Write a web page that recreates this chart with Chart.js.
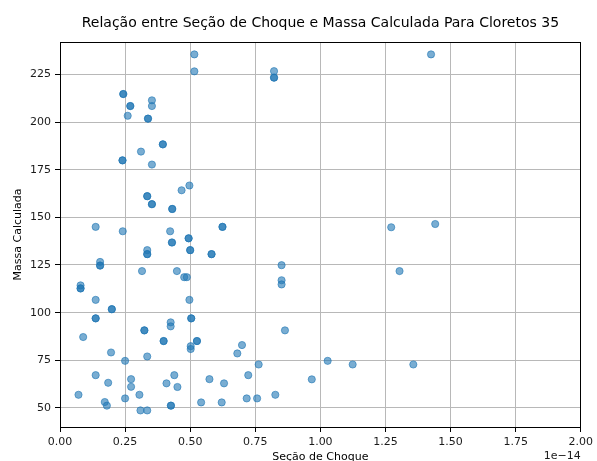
<!DOCTYPE html>
<html>
<head>
<meta charset="utf-8">
<script src="https://cdn.jsdelivr.net/npm/chart.js@4.4.0/dist/chart.umd.min.js"></script>
<style>
  html, body { margin: 0; padding: 0; background: #fff; }
  #wrap { width: 597px; height: 461px; }
</style>
</head>
<body>
<div id="wrap"><canvas id="scatter" width="597" height="461"></canvas></div>
<script>
// Seção de choque (em unidades de 1e-14) e massa calculada
var secaoChoque = [
  0.516, 0.516, 0.243, 0.243, 0.270, 0.270, 0.353, 0.353, 0.260, 0.338,
  0.338, 0.395, 0.395, 0.311, 0.240, 0.240, 0.353, 0.497, 0.467, 0.335,
  0.335, 0.353, 0.353, 0.431, 0.431, 0.137, 0.241, 0.423, 0.624, 0.624,
  0.494, 0.494, 0.430, 0.430, 0.500, 0.500, 0.335, 0.335, 0.335, 0.582,
  0.582, 0.154, 0.154, 0.154, 0.315, 0.449, 0.477, 0.487, 0.079, 0.079,
  0.079, 0.137, 0.497, 0.199, 0.199, 0.137, 0.137, 0.504, 0.504, 0.425,
  0.425, 0.324, 0.324, 0.089, 0.398, 0.398, 0.526, 0.526, 0.502, 0.502,
  0.196, 0.335, 0.250, 0.137, 0.439, 0.273, 0.185, 0.409, 0.273, 0.451,
  0.574, 0.630, 0.071, 0.305, 0.250, 0.172, 0.180, 0.542, 0.621, 0.426,
  0.426, 0.309, 0.335, 0.822, 0.822, 0.822, 1.272, 0.851, 0.851, 0.851,
  1.304, 0.864, 0.699, 0.681, 0.763, 1.028, 1.124, 0.723, 0.967, 0.717,
  0.757, 0.827, 1.425, 1.441, 1.357
];
var massaCalculada = [
  235.5, 226.6, 214.7, 214.7, 208.4, 208.4, 211.4, 208.4, 203.3, 201.8,
  201.8, 188.3, 188.3, 184.5, 179.9, 179.9, 177.7, 166.7, 164.2, 161.1,
  161.1, 156.9, 156.9, 154.4, 154.4, 145.0, 142.7, 142.7, 145.0, 145.0,
  139.0, 139.0, 136.8, 136.8, 132.8, 132.8, 132.8, 130.7, 130.7, 130.7,
  130.7, 126.6, 124.7, 124.7, 121.8, 121.8, 118.6, 118.6, 114.3, 112.7,
  112.7, 106.7, 106.7, 101.8, 101.8, 97.0, 97.0, 97.0, 97.0, 94.9,
  92.8, 90.7, 90.7, 87.2, 85.1, 85.1, 85.1, 85.1, 82.4, 80.9,
  79.1, 77.0, 74.7, 67.2, 67.2, 65.1, 63.2, 62.9, 61.1, 61.0,
  65.1, 62.9, 56.9, 56.9, 55.0, 53.1, 51.2, 52.9, 52.9, 51.2,
  51.2, 48.7, 48.7, 226.7, 223.3, 223.3, 144.8, 124.9, 117.0, 114.8,
  121.8, 90.7, 83.0, 78.6, 72.8, 74.7, 72.8, 67.2, 65.0, 55.0,
  55.0, 56.9, 235.5, 146.5, 72.8
];
var xTicks = [0, 0.25, 0.5, 0.75, 1.0, 1.25, 1.5, 1.75, 2.0];
var yTicks = [50, 75, 100, 125, 150, 175, 200, 225];

var FONT = "'DejaVu Sans', sans-serif";
var pontos = secaoChoque.map(function (x, i) { return { x: x, y: massaCalculada[i] }; });

// moldura completa (spines) e texto de offset do eixo x
var frame = {
  id: 'frame',
  afterDraw: function (chart) {
    var c = chart.ctx, a = chart.chartArea;
    c.save();
    c.strokeStyle = '#000';
    c.lineWidth = 1;
    c.strokeRect(Math.round(a.left) + 0.5, Math.round(a.top) + 0.5,
                 Math.round(a.right - a.left) - 1, Math.round(a.bottom - a.top));
    c.fillStyle = '#1a1a1a';
    c.font = '11px ' + FONT;
    c.textAlign = 'right';
    c.textBaseline = 'middle';
    c.fillText('1e\u221214', a.right, 456);
    c.restore();
  }
};

var ctx = document.getElementById('scatter').getContext('2d');
var chart = new Chart(ctx, {
  type: 'scatter',
  data: {
    datasets: [{
      label: 'Massa Calculada',
      data: pontos,
      backgroundColor: 'rgba(31, 119, 180, 0.6)',
      borderColor: 'rgba(31, 119, 180, 0.6)',
      borderWidth: 1,
      pointRadius: 3.6,
      pointHoverRadius: 3.6
    }]
  },
  options: {
    responsive: false,
    animation: false,
    devicePixelRatio: 1,
    layout: { padding: { left: 0, right: 12, top: 0, bottom: 0 } },
    plugins: {
      legend: { display: false },
      tooltip: { enabled: false },
      title: {
        display: true,
        fullSize: false,
        text: 'Relação entre Seção de Choque e Massa Calculada Para Cloretos 35',
        color: '#000',
        font: { family: FONT, size: 14, weight: 'normal', lineHeight: 1.2 },
        padding: { top: 15, bottom: 10.2 }
      }
    },
    scales: {
      x: {
        type: 'linear',
        min: 0,
        max: 2,
        afterFit: function (s) { s.height = 34; },
        afterBuildTicks: function (s) { s.ticks = xTicks.map(function (v) { return { value: v }; }); },
        ticks: {
          color: '#1a1a1a',
          font: { family: FONT, size: 11 },
          padding: 4,
          maxRotation: 0,
          callback: function (v) { return Number(v).toFixed(2); }
        },
        grid: { color: '#b8b8b8', lineWidth: 1, tickLength: 5, tickColor: '#000' },
        border: { display: true, color: '#000', width: 1 },
        title: {
          display: true,
          text: 'Seção de Choque',
          color: '#000',
          font: { family: FONT, size: 11, lineHeight: 1 },
          padding: { top: 0, bottom: -2 }
        }
      },
      y: {
        type: 'linear',
        min: 40,
        max: 242,
        afterFit: function (s) { s.width = 60; },
        afterBuildTicks: function (s) { s.ticks = yTicks.map(function (v) { return { value: v }; }); },
        ticks: {
          color: '#1a1a1a',
          font: { family: FONT, size: 11 },
          padding: 4
        },
        grid: { color: '#b8b8b8', lineWidth: 1, tickLength: 5, tickColor: '#000' },
        border: { display: true, color: '#000', width: 1 },
        title: {
          display: true,
          text: 'Massa Calculada',
          color: '#000',
          font: { family: FONT, size: 11, lineHeight: 1 },
          padding: { top: 13, bottom: 0 }
        }
      }
    }
  },
  plugins: [frame]
});
</script>
</body>
</html>
